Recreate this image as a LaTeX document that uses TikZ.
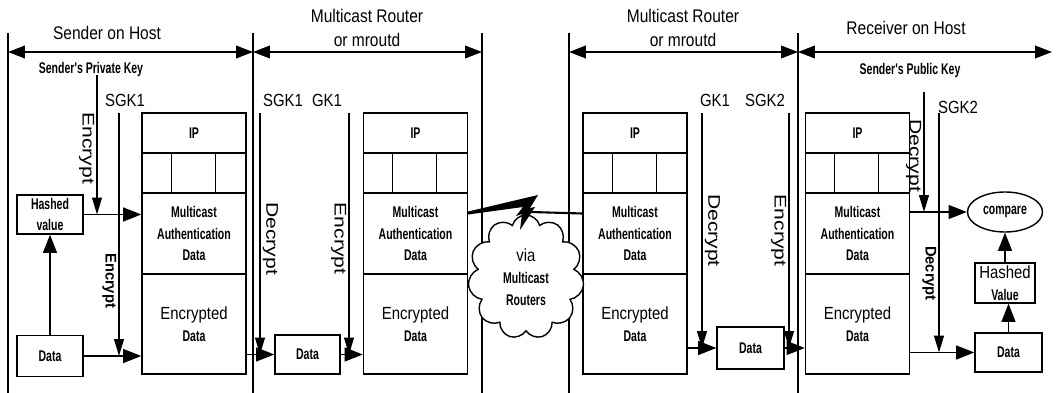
\documentclass[tikz,border=0pt]{standalone}
\usepackage{fontspec}
\setmainfont{Liberation Sans}
\newfontfamily\hfont[FakeStretch=0.85]{Liberation Sans}
\newfontfamily\bfont[FakeStretch=0.68]{Liberation Sans}
\newfontfamily\bwfont[FakeStretch=0.95]{Liberation Sans}
\newfontfamily\wfont[FakeStretch=1.25]{Liberation Sans}
\usetikzlibrary{arrows.meta,calc,shapes.geometric,shapes.symbols}

\newcommand{\plain}{\hfont\mdseries\fontsize{12.5}{15}\selectfont}

\tikzset{
  head/.style={font=\hfont\fontsize{13}{16.4}\selectfont, align=center},
  keylab/.style={font=\plain},
  sb/.style={font=\bfont\bfseries\fontsize{11}{15.6}\selectfont, align=center},
  op/.style={font=\wfont\fontsize{12}{14}\selectfont, rotate=-90, inner sep=1.5pt},
  opsb/.style={font=\bwfont\bfseries\fontsize{11}{14}\selectfont, rotate=-90, inner sep=1.5pt},
  box/.style={draw, line width=1pt, inner sep=0pt, sb},
  arr/.style={line width=1pt, -{Triangle[length=13pt,width=10pt]}},
  keyline/.style={line width=1pt, -{Triangle[length=12pt,width=7pt]}},
  dimline/.style={line width=1pt, {Triangle[length=12pt,width=9pt]}-{Triangle[length=12pt,width=9pt]}},
}

\begin{document}
\begin{tikzpicture}[x=0.025cm, y=-0.025cm]
    \useasboundingbox (0,0) rectangle (1058,393);

    % section borders and spans
    \coordinate (b0) at (8,33);
    \coordinate (b1) at (253,33);
    \coordinate (b2) at (482,33);
    \coordinate (b3) at (569,33);
    \coordinate (b4) at (798,33);
    \coordinate (b5) at (1052,52);
    \coordinate (dim) at (0,52);
    \coordinate (bot) at (0,393);

    \foreach \b in {b0,b1,b2,b3,b4}
        \draw[line width=1pt] (\b) -- (\b |- bot);

    \draw[dimline] (b0 |- dim) -- (b1 |- dim);
    \draw[dimline] (b1 |- dim) -- (b2 |- dim);
    \draw[dimline] (b3 |- dim) -- (b4 |- dim);
    \draw[dimline] (b4 |- dim) -- (b5);

    \node[head] (hsend) at (107,33) {Sender on Host};
    \node[head] (hrt1) at (367,28) {Multicast Router\\or mroutd};
    \node[head] (hrt2) at (683,28) {Multicast Router\\or mroutd};
    \node[head] (hrecv) at (906,28) {Receiver on Host};

    % packets
    \foreach \p/\cx in {s/194,a/415.5,b/635,r/857.5}{
        \node[box, minimum width=2.6cm, minimum height=1cm] (\p-ip) at (\cx,133) {IP};
        \node[box, minimum width=2.6cm, minimum height=1cm] (\p-fld) at (\cx,173) {};
        \draw[line width=1pt]
            ($(\p-fld.north west)+(30,0)$) -- ($(\p-fld.south west)+(30,0)$)
            ($(\p-fld.north west)+(74,0)$) -- ($(\p-fld.south west)+(74,0)$);
        \node[box, minimum width=2.6cm, minimum height=2.025cm] (\p-mad) at (\cx,233.5)
            {Multicast\\Authentication\\Data};
        \node[box, minimum width=2.6cm, minimum height=2.5cm] (\p-enc) at (\cx,324)
            {{\plain Encrypted}\\Data};
    }

    % sender
    \node[sb] (privkey) at (91,70) {Sender's Private Key};
    \node[keylab] (ksgk1) at (125,100) {SGK1};
    \node[box, minimum width=1.65cm, minimum height=0.975cm] (shash) at (50,214.5) {Hashed\\value};
    \node[box, minimum width=1.65cm, minimum height=1.025cm] (sdata) at (50,356) {Data};

    \draw[arr] (sdata.north) -- (shash.south);
    \draw[arr] (shash.east) -- (shash.east -| s-mad.west);
    \draw[arr] (sdata.east) -- (sdata.east -| s-enc.west);

    \coordinate (kpriv) at (97,75);
    \coordinate (ks) at (119,113);
    \draw[keyline] (kpriv) -- (kpriv |- shash.east)
        node[op, pos=0.525, anchor=north] {Encrypt};
    \draw[keyline] (ks) -- (ks |- sdata.east)
        node[opsb, pos=0.69, anchor=north] {Encrypt};

    % first router
    \node[keylab] (ka1lab) at (283,100) {SGK1};
    \node[keylab] (ka2lab) at (327,100) {GK1};
    \node[box, minimum width=1.625cm, minimum height=0.975cm] (adata) at (307.5,354.5) {Data};

    \draw[arr] (s-enc.east |- adata) -- (adata.west);
    \draw[arr] (adata.east) -- (adata.east -| a-enc.west);

    \coordinate (ka1) at (260,113);
    \coordinate (ka2) at (349,113);
    \draw[keyline] (ka1) -- (ka1 |- adata)
        node[op, pos=0.52, anchor=south] {Decrypt};
    \draw[keyline] (ka2) -- (ka2 |- adata)
        node[op, pos=0.52, anchor=north] {Encrypt};

    % second router
    \node[keylab] (kb1lab) at (715,100) {GK1};
    \node[keylab] (kb2lab) at (765,100) {SGK2};
    \node[box, minimum width=1.675cm, minimum height=1.05cm] (bdata) at (750.5,348) {Data};

    \draw[arr] (b-enc.east |- bdata) -- (bdata.west);
    \draw[arr] (bdata.east) -- (bdata.east -| r-enc.west);

    \coordinate (kb1) at (702,113);
    \coordinate (kb2) at (789,113);
    \draw[keyline] (kb1) -- (kb1 |- bdata)
        node[op, pos=0.5, anchor=south] {Decrypt};
    \draw[keyline] (kb2) -- (kb2 |- bdata)
        node[op, pos=0.5, anchor=north] {Encrypt};

    % receiver
    \node[sb] (pubkey) at (910,71) {Sender's Public Key};
    \node[keylab] (krlab) at (958,107) {SGK2};
    \node[draw, ellipse, line width=1pt, inner sep=0pt, minimum width=1.875cm, minimum height=1cm, sb]
        (cmp) at (1005,212) {compare};
    \node[box, minimum width=1.5cm, minimum height=1cm] (rhash) at (1005,283)
        {{\plain Hashed}\\Value};
    \node[box, minimum width=1.675cm, minimum height=0.975cm] (rdata) at (1008.5,352.5) {Data};

    \draw[arr] (r-mad.east |- cmp) -- (cmp.west);
    \draw[arr] (r-enc.east |- rdata) -- (rdata.west);
    \draw[arr] (rdata.north) -- (rdata.north |- rhash.south);
    \draw[arr] (rhash.north) -- (cmp.south);

    \coordinate (kpub) at (924,92);
    \coordinate (kr) at (939,113);
    \draw[keyline] (kpub) -- (kpub |- cmp)
        node[op, pos=0.53, anchor=north] {Decrypt};
    \draw[keyline] (kr) -- (kr |- rdata)
        node[opsb, pos=0.67, anchor=north] {Decrypt};

    % network between the routers
    \node[draw, cloud, cloud puffs=11, aspect=0.9, fill=white, line width=1pt,
          minimum width=2.9cm, minimum height=3.1cm, align=center, sb] (net) at (526,277)
        {{\plain via}\\Multicast\\Routers};

    \coordinate (bolt) at (531,212);
    \fill ($(a-mad.east)+(0,-22)$) -- (538,195) -- (530,208) -- (535,207) -- (520,230)
        -- (522,214) -- (516,216) -- (523,207) -- ($(a-mad.east)+(0,-19)$) -- cycle;
    \draw[line width=1.5pt] (bolt) -- ($(b-mad.west)+(0,-20)$);
\end{tikzpicture}
\end{document}
